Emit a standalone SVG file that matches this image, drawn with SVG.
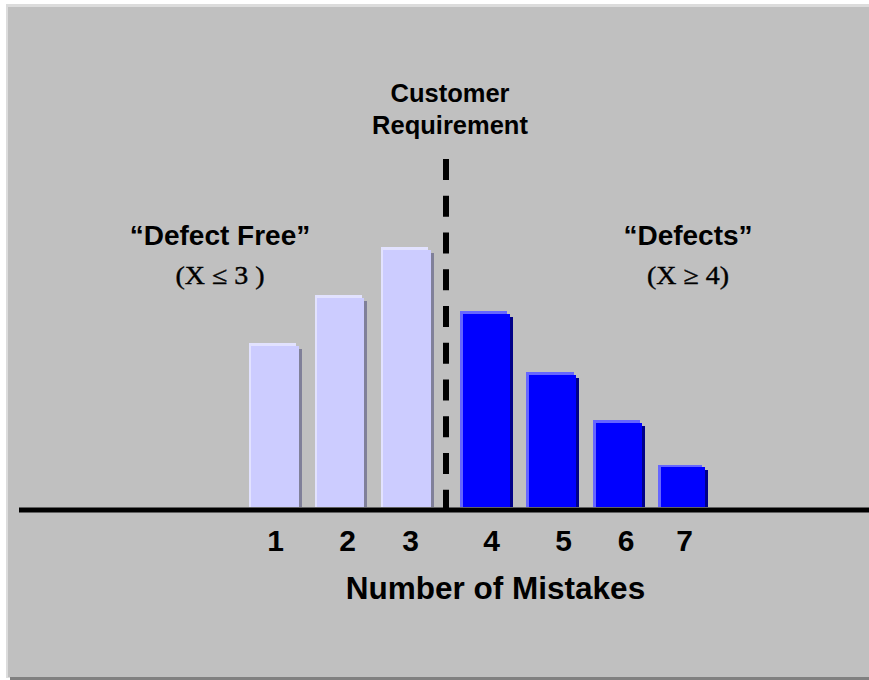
<svg xmlns="http://www.w3.org/2000/svg" width="869" height="680" viewBox="0 0 869 680">
<style>
.b{font-family:"Liberation Sans",Arial,sans-serif;font-weight:bold;fill:#000;text-anchor:middle}
.s{font-family:"Liberation Serif","Times New Roman",serif;fill:#000;text-anchor:middle;stroke:#000;stroke-width:0.4}
.lh{fill:#e2e2ff}.lf{fill:#ccccff}.ls{fill:#808099}
.bh{fill:#6666ff}.bf{fill:#0000ff}.bs{fill:#000088}
</style>
<rect x="0" y="0" width="869" height="680" fill="#ffffff"/>
<rect x="6" y="4" width="863" height="674" fill="#dcdcdc"/>
<rect x="10" y="677" width="859" height="3" fill="#808080"/>
<rect x="8" y="7" width="861" height="670" fill="#c0c0c0"/>
<g id="bar1"><rect class="lh" x="249" y="343" width="47" height="164"/><rect class="lf" x="251" y="346" width="48" height="161"/><rect class="ls" x="299" y="349" width="3" height="158"/></g>
<g id="bar2"><rect class="lh" x="315" y="295" width="47" height="212"/><rect class="lf" x="317" y="298" width="47" height="209"/><rect class="ls" x="364" y="301" width="3" height="206"/></g>
<g id="bar3"><rect class="lh" x="381" y="247" width="47" height="260"/><rect class="lf" x="383" y="250" width="48" height="257"/><rect class="ls" x="431" y="253" width="3" height="254"/></g>
<g id="bar4"><rect class="bh" x="460" y="311" width="47" height="196"/><rect class="bf" x="463" y="314" width="47" height="193"/><rect class="bs" x="510" y="317" width="3" height="190"/></g>
<g id="bar5"><rect class="bh" x="526" y="372" width="48" height="135"/><rect class="bf" x="529" y="375" width="47" height="132"/><rect class="bs" x="576" y="378" width="3" height="129"/></g>
<g id="bar6"><rect class="bh" x="593" y="420" width="47" height="87"/><rect class="bf" x="596" y="423" width="46" height="84"/><rect class="bs" x="642" y="426" width="3" height="81"/></g>
<g id="bar7"><rect class="bh" x="658" y="465" width="44" height="42"/><rect class="bf" x="661" y="467" width="44" height="40"/><rect class="bs" x="705" y="470" width="3" height="37"/></g>
<g id="connectors">
<line x1="19" y1="510" x2="869" y2="510" stroke="#000" stroke-width="5"/>
<line x1="446" y1="159" x2="446" y2="508" stroke="#000" stroke-width="6" stroke-dasharray="21 15.75"/>
</g>
<g id="requirement">
<text class="b" x="450" y="102" font-size="25.5">Customer</text>
<text class="b" x="450" y="134" font-size="25.5">Requirement</text>
</g>
<g id="defect-free">
<text class="b" x="220" y="245" font-size="28">“Defect Free”</text>
<text class="s" x="220" y="284" font-size="25" textLength="89" lengthAdjust="spacingAndGlyphs">(X ≤ 3 )</text>
</g>
<g id="defects">
<text class="b" x="688" y="245" font-size="28">“Defects”</text>
<text class="s" x="688" y="284" font-size="25" textLength="82" lengthAdjust="spacingAndGlyphs">(X ≥ 4)</text>
</g>
<g id="axis-labels">
<text class="b" x="275.5" y="551" font-size="30">1</text>
<text class="b" x="347.5" y="551" font-size="30">2</text>
<text class="b" x="410.5" y="551" font-size="30">3</text>
<text class="b" x="491.5" y="551" font-size="30">4</text>
<text class="b" x="563.5" y="551" font-size="30">5</text>
<text class="b" x="626" y="551" font-size="30">6</text>
<text class="b" x="684.5" y="551" font-size="30">7</text>
<text class="b" x="495.5" y="599" font-size="31.5">Number of Mistakes</text>
</g>
</svg>
